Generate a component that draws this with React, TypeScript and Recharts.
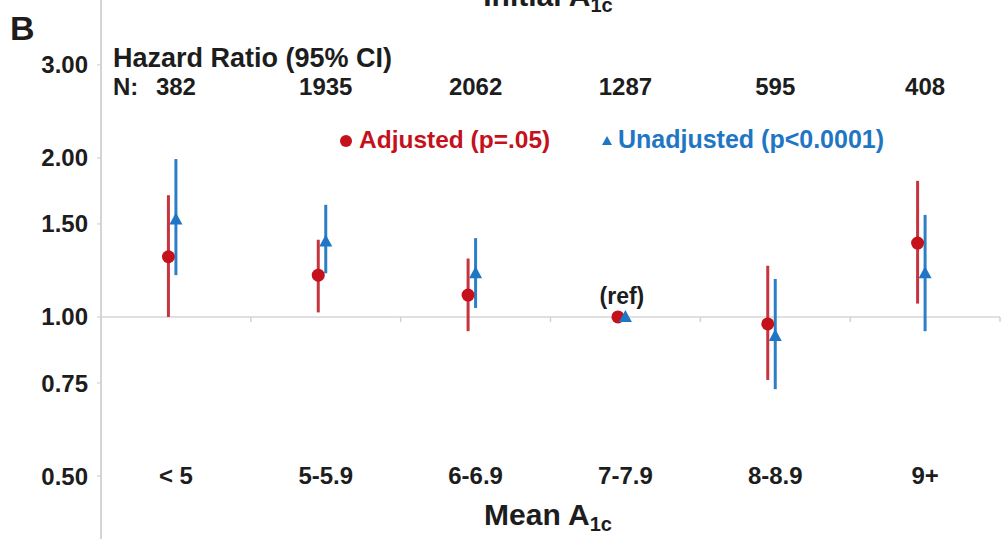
import React from "react";
import { ScatterChart, Scatter, XAxis, YAxis, ErrorBar, ReferenceLine } from "recharts";

const categories = ["< 5", "5-5.9", "6-6.9", "7-7.9", "8-8.9", "9+"];
const counts = [382, 1935, 2062, 1287, 595, 408];

const adjustedHR = [1.3, 1.2, 1.1, 1.0, 0.97, 1.38];
const adjustedLow = [1.0, 1.02, 0.94, 1.0, 0.76, 1.06];
const adjustedHigh = [1.7, 1.4, 1.29, 1.0, 1.25, 1.81];

const unadjustedHR = [1.53, 1.39, 1.21, 1.0, 0.92, 1.21];
const unadjustedLow = [1.2, 1.21, 1.04, 1.0, 0.73, 0.94];
const unadjustedHigh = [1.99, 1.63, 1.41, 1.0, 1.18, 1.56];

const yTicks = [0.5, 0.75, 1, 1.5, 2, 3];

const RED = "#c4111c";
const RED_BAR = "#c6343d";
const BLUE = "#1f76c4";
const BLUE_BAR = "#2a7fc6";
const INK = "#1d1d1d";
const FONT = "'Liberation Sans', Arial, Helvetica, sans-serif";

// red sits a little left of the category centre, blue on it
const adjusted = categories.map((c, i) => ({
  x: i + 0.45,
  y: adjustedHR[i],
  err: [adjustedHR[i] - adjustedLow[i], adjustedHigh[i] - adjustedHR[i]],
  isRef: adjustedLow[i] === adjustedHigh[i],
}));

const unadjusted = categories.map((c, i) => ({
  x: i + 0.5,
  y: unadjustedHR[i],
  err: [unadjustedHR[i] - unadjustedLow[i], unadjustedHigh[i] - unadjustedHR[i]],
}));

const labelRows = categories.map((c, i) => ({ x: i + 0.5, y: 0.5, label: c, n: counts[i] }));
const boundaries = categories.map((c, i) => i + 1);

const Dot = (props: any) => {
  const { cx, cy, payload } = props;
  return (
    <g>
      <circle cx={cx} cy={cy} r={6.5} fill={RED} />
      {payload.isRef && (
        <text x={cx + 4} y={cy - 13} textAnchor="middle" fontSize={23} fontWeight={700} fill={INK} fontFamily={FONT}>
          (ref)
        </text>
      )}
    </g>
  );
};

const Tri = (props: any) => {
  const { cx, cy } = props;
  return <polygon points={`${cx},${cy - 7} ${cx + 6.5},${cy + 5} ${cx - 6.5},${cy + 5}`} fill={BLUE} />;
};

const CatLabel = (props: any) => {
  const { cx, cy, payload } = props;
  return (
    <g fontFamily={FONT} fontWeight={700} fill={INK}>
      <text x={cx} y={cy} dy="0.35em" textAnchor="middle" fontSize={24}>
        {payload.label}
      </text>
      <text x={cx} y={95} textAnchor="middle" fontSize={24}>
        {payload.n}
      </text>
    </g>
  );
};

export default function App() {
  return (
    <div style={{ position: "absolute", left: 0, top: 0, width: 1002, height: 539, background: "#fff" }}>
      <ScatterChart width={1002} height={539} margin={{ top: 0, right: 2, bottom: 0, left: 0 }}>
        <XAxis type="number" dataKey="x" domain={[0, 6]} hide allowDataOverflow />
        <YAxis
          type="number"
          dataKey="y"
          scale="log"
          domain={[0.38, 3.98]}
          allowDataOverflow
          ticks={yTicks}
          interval={0}
          tickFormatter={(v: number) => v.toFixed(2)}
          width={101}
          tickSize={4}
          tickMargin={9}
          axisLine={{ stroke: "#d4d4d4", strokeWidth: 2 }}
          tickLine={{ stroke: "#cccccc" }}
          tick={{ fontSize: 24, fontWeight: 700, fill: INK, fontFamily: FONT }}
        />
        <ReferenceLine y={1} stroke="#e0e0e0" strokeWidth={2} />
        {boundaries.map((b) => (
          <ReferenceLine
            key={b}
            segment={[{ x: b, y: 1 }, { x: b, y: 0.978 }]}
            stroke="#d2d2d2"
            strokeWidth={1.5}
          />
        ))}
        <Scatter data={labelRows} shape={CatLabel} isAnimationActive={false} />
        <Scatter data={adjusted} shape={Dot} isAnimationActive={false}>
          <ErrorBar dataKey="err" direction="y" width={0} stroke={RED_BAR} strokeWidth={3} />
        </Scatter>
        <Scatter data={unadjusted} shape={Tri} isAnimationActive={false}>
          <ErrorBar dataKey="err" direction="y" width={0} stroke={BLUE_BAR} strokeWidth={3} />
        </Scatter>
      </ScatterChart>
      <svg
        width={1002}
        height={539}
        style={{ position: "absolute", left: 0, top: 0, pointerEvents: "none" }}
        fontFamily={FONT}
        fontWeight={700}
      >
        <text x={548} y={6} textAnchor="middle" fontSize={30} fill={INK}>
          Initial A<tspan fontSize={20} dy={6}>1c</tspan>
        </text>
        <text x={10} y={40} fontSize={34} fill={INK}>B</text>
        <text x={113} y={67} fontSize={27} fill={INK}>Hazard Ratio (95% CI)</text>
        <text x={113} y={95} fontSize={24} fill={INK}>N:</text>
        <circle cx={346} cy={141} r={6} fill={RED} />
        <text x={359} y={148} fontSize={24.5} fill={RED}>Adjusted (p=.05)</text>
        <polygon points="607,136 612,145 602,145" fill={BLUE} />
        <text x={618} y={148} fontSize={25} fill={BLUE}>Unadjusted (p&lt;0.0001)</text>
        <text x={548} y={525} textAnchor="middle" fontSize={30} fill={INK}>
          Mean A<tspan fontSize={20} dy={6}>1c</tspan>
        </text>
      </svg>
    </div>
  );
}
